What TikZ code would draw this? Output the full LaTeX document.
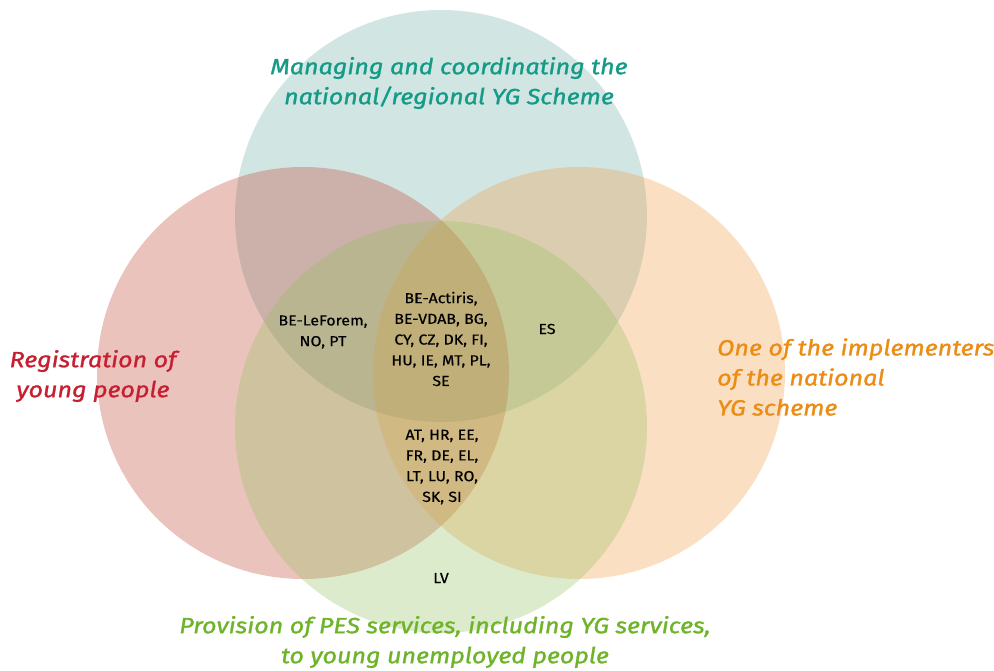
\documentclass[tikz,border=0pt]{standalone}
\usepackage{fontspec}
\setmainfont{Fira Sans}
\newfontfamily\titlefont[FakeStretch=1.14, FakeBold=1.2]{Fira Sans}
\newfontfamily\memberfont[FakeStretch=1.1, FakeBold=0.4]{Fira Sans}
\definecolor{tealC}{RGB}{105,172,165}
\definecolor{redC}{RGB}{192,58,38}
\definecolor{orangeC}{RGB}{245,152,58}
\definecolor{greenC}{RGB}{145,192,92}
\definecolor{tealT}{RGB}{20,155,135}
\definecolor{redT}{RGB}{200,30,50}
\definecolor{orangeT}{RGB}{235,140,20}
\definecolor{greenT}{RGB}{110,180,40}
\tikzset{
  setc/.style={fill opacity=0.3},
  title/.style={font=\titlefont\fontsize{22}{30}\selectfont\itshape, inner sep=0pt},
  members/.style={font=\memberfont\fontsize{14.5}{20.7}\selectfont, text=black, align=center, inner sep=0pt}
}
\begin{document}
\begin{tikzpicture}[x=1pt,y=-1pt]
\useasboundingbox (0,0) rectangle (994,670);
\fill[white] (0,0) rectangle (994,670);
\fill[setc, tealC] (441,216) circle[radius=206pt];
\fill[setc, redC] (303,373) circle[radius=206pt];
\fill[setc, orangeC] (579,373) circle[radius=206pt];
\fill[setc, greenC] (441,427) circle[radius=206pt];

\node[title, text=tealT, align=center] (tManage) at (449,83) {Managing and coordinating the\\national/regional YG Scheme};
\node[title, text=redT, align=center] (tReg) at (93,376) {Registration of\\young people};
\node[title, text=orangeT, align=left, anchor=west] (tImpl) at (717,377) {One of the implementers\\of the national\\YG scheme};
\node[title, text=greenT, align=center] (tPES) at (445,642) {Provision of PES services, including YG services,\\to young unemployed people};

\node[members] (mLeForem) at (323,332) {BE-LeForem,\\NO, PT};
\node[members] (mCentre) at (441,339) {BE-Actiris,\\BE-VDAB, BG,\\CY, CZ, DK, FI,\\HU, IE, MT, PL,\\SE};
\node[members] (mES) at (547,329) {ES};
\node[members] (mAT) at (442,467) {AT, HR, EE,\\FR, DE, EL,\\LT, LU, RO,\\SK, SI};
\node[members] (mLV) at (441,578) {LV};
\end{tikzpicture}
\end{document}
